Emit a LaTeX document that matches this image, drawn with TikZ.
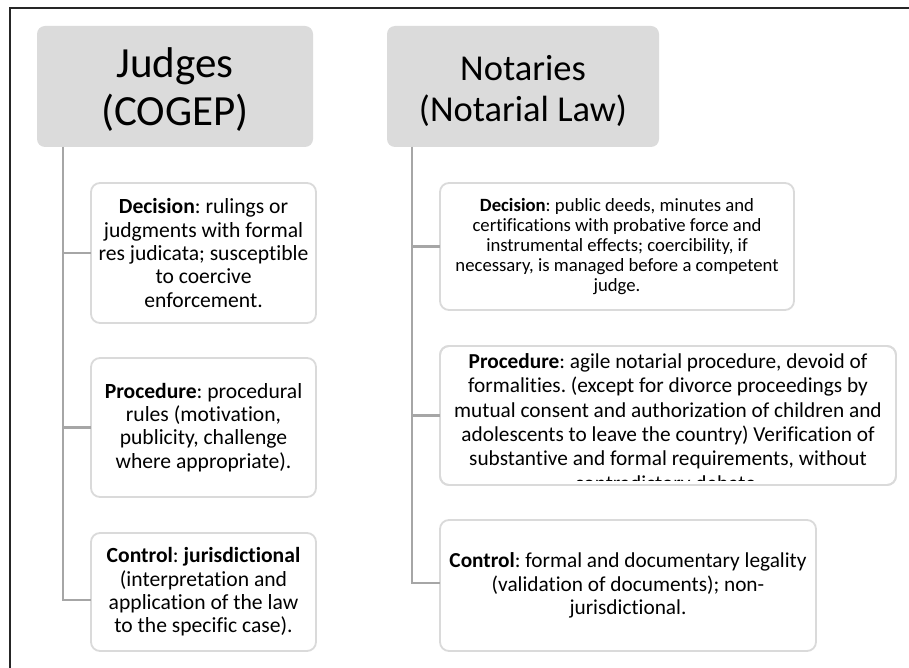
\documentclass[tikz,border=0pt]{standalone}
\usepackage{fontspec}
\setmainfont{Carlito}[Ligatures=NoCommon]
\frenchspacing
\begin{document}
\begin{tikzpicture}[x=1pt,y=-1pt,
  headbox/.style={draw=none, fill=headgray, rounded corners=8pt, inner sep=0pt, outer sep=0pt},
  headtext/.style={align=center, inner sep=0pt},
  itembox/.style={draw=boxgray, line width=1.8pt, fill=white, rounded corners=9pt, inner sep=0pt,
    outer sep=0pt, align=center, font=\fontsize{21.6}{23.3}\selectfont},
  conn/.style={draw=conngray, line width=2.4pt},
  frameline/.style={draw=black!85, line width=1.6pt}
]
\definecolor{headgray}{HTML}{DBDBDB}
\definecolor{boxgray}{HTML}{DADADA}
\definecolor{conngray}{HTML}{A6A6A6}
\useasboundingbox (0,0) rectangle (909,668);

% outer frame (only top and left edges fall inside the page)
\draw[frameline] (10,668) -- (10,8) -- (909,8);

% column headers
\node[headbox, minimum width=276pt, minimum height=121pt] (jud) at (175,86.5) {};
\node[headtext, font=\fontsize{43}{48}\selectfont] (judtxt) at ([yshift=-3pt]jud.center) {Judges\\(COGEP)};
\node[headbox, minimum width=272pt, minimum height=121pt] (nota) at (523,86.5) {};
\node[headtext, font=\fontsize{36.5}{41}\selectfont] (notatxt) at ([yshift=-4pt]nota.center) {Notaries\\(Notarial Law)};

% judges column
\node[itembox, minimum width=225pt, minimum height=140pt] (jdec) at (203.5,253)
  {\textbf{Decision}: rulings or\\judgments with formal\\res judicata; susceptible\\to coercive\\enforcement.};
\node[itembox, minimum width=225pt, minimum height=139pt] (jproc) at (203.5,427.5)
  {\textbf{Procedure}: procedural\\rules (motivation,\\publicity, challenge\\where appropriate).};
\node[itembox, minimum width=225pt, minimum height=118pt] (jctl) at (203.5,592)
  {\textbf{Control}: \textbf{jurisdictional}\\(interpretation and\\application of the law\\to the specific case).};

% notaries column
\node[itembox, minimum width=354pt, minimum height=127pt, font=\fontsize{18.7}{20}\selectfont] (ndec) at (617,246.5)
  {\textbf{Decision}: public deeds, minutes and\\certifications with probative force and\\instrumental effects; coercibility, if\\necessary, is managed before a competent\\judge.};
\node[itembox, minimum width=456pt, minimum height=139pt] (nproc) at (668,415.5) {};
\begin{scope}
  \clip ([xshift=1pt]nproc.north west) rectangle ([yshift=4.5pt]nproc.south east);
  \node[align=center, inner sep=0pt, font=\fontsize{21.3}{24.3}\selectfont] (nproctxt) at ([yshift=-8pt]nproc.center)
    {\textbf{Procedure}: agile notarial procedure, devoid of\\formalities. (except for divorce proceedings by\\mutual consent and authorization of children and\\adolescents to leave the country) Verification of\\substantive and formal requirements, without\\contradictory debate.};
\end{scope}
\draw[draw=boxgray, line width=1.8pt, rounded corners=9pt] (nproc.north west) rectangle (nproc.south east);
\node[itembox, minimum width=376pt, minimum height=131pt, font=\fontsize{21.3}{23.3}\selectfont] (nctl) at (628,585.5)
  {\textbf{Control}: formal and documentary legality\\(validation of documents); non-\\jurisdictional.};

% connectors
\coordinate (jtop) at (jud.south -| 63,0);
\coordinate (ntop) at (nota.south -| 412,0);
\coordinate (jctlin) at ([yshift=-8pt]jctl.west);
\coordinate (nctlin) at ([yshift=2.5pt]nctl.west);
\draw[conn] (jtop) |- (jdec.west);
\draw[conn] (jtop) |- (jproc.west);
\draw[conn] (jtop) |- (jctlin);
\draw[conn] (ntop) |- (ndec.west);
\draw[conn] (ntop) |- (nproc.west);
\draw[conn] (ntop) |- (nctlin);
\end{tikzpicture}
\end{document}
